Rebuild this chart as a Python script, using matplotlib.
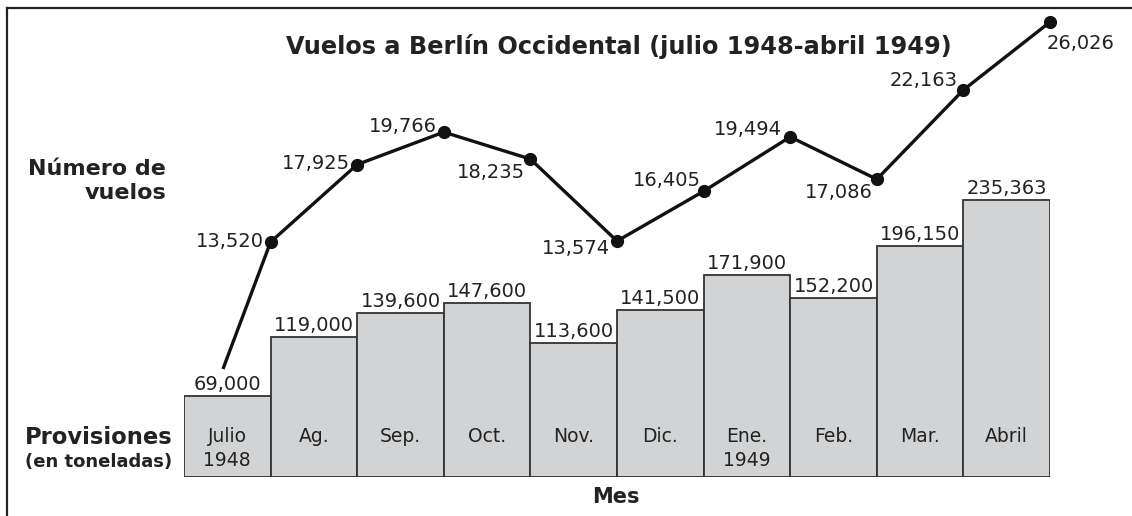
import matplotlib
matplotlib.use("Agg")
import matplotlib.pyplot as plt
from matplotlib.lines import Line2D

plt.rcParams['font.family'] = ['DejaVu Sans']

# data
months = ['Julio\n1948', 'Ag.', 'Sep.', 'Oct.', 'Nov.', 'Dic.', 'Ene.\n1949', 'Feb.', 'Mar.', 'Abril']
tons = [69000, 119000, 139600, 147600, 113600, 141500, 171900, 152200, 196150, 235363]
flights = [13520, 17925, 19766, 18235, 13574, 16405, 19494, 17086, 22163, 26026]
# the line starts inside the July bar, without a marker
line_start = 6300

# label offsets for the flight values (pixels, ha)
flight_offsets = [(-7, 0, 'right'), (-7, 1, 'right'), (-7, 6, 'right'), (-5, -13, 'right'),
                  (-7, -7, 'right'), (-3, 11, 'right'), (-8, 7, 'right'), (-4, -13, 'right'),
                  (-6, 9, 'right'), (-3, -21, 'left')]

W, H = 1132, 516
fig = plt.figure(figsize=(W / 100, H / 100), dpi=100)

# frame: left and top lines only
fig.add_artist(Line2D([7 / W, 7 / W], [0, 1 - 8 / H], color='#222222', lw=1.6, transform=fig.transFigure))
fig.add_artist(Line2D([7 / W, 1], [1 - 8 / H, 1 - 8 / H], color='#222222', lw=1.6, transform=fig.transFigure))

ax = fig.add_axes([184 / W, (H - 477) / H, 866 / W, (477 - 10) / H])
ax.set_xlim(0, 10)
ax.set_ylim(0, 235363 * 467 / 277)
ax.axis('off')

x = list(range(len(tons)))
ax.bar(x, tons, width=1, align='edge', color='#d2d3d5', edgecolor='#333333', linewidth=1.3)
for i, t in enumerate(tons):
    ax.annotate(f'{t:,}', (i + 0.5, t), xytext=(0, 2), textcoords='offset pixels',
                ha='center', va='bottom', fontsize=14, color='#222222')
    ax.annotate(months[i], (i + 0.5, 0), xytext=(0, 50), textcoords='offset pixels',
                ha='center', va='top', fontsize=13.5, color='#222222', linespacing=1.3)

ax2 = ax.twinx()
ax2.set_ylim(160, 26709)
ax2.axis('off')
lx = [0.45] + [i + 1 for i in x]
ax2.plot(lx, [line_start] + flights, color='#111111', lw=2.4, solid_capstyle='butt')
ax2.plot([i + 1 for i in x], flights, 'o', color='#111111', markersize=8.5, clip_on=False)
for i, f in enumerate(flights):
    dx, dy, ha = flight_offsets[i]
    ax2.annotate(f'{f:,}', (i + 1, f), xytext=(dx, dy), textcoords='offset pixels',
                 ha=ha, va='center', fontsize=14, color='#222222')

fig.text(619 / W, 1 - 47 / H, 'Vuelos a Berlín Occidental (julio 1948-abril 1949)',
         ha='center', va='center', fontsize=17.3, fontweight='bold', color='#222222')
fig.text(166 / W, 1 - 181 / H, 'Número de\nvuelos', ha='right', va='center',
         fontsize=16, fontweight='bold', color='#222222', linespacing=1.2)
fig.text(173 / W, 1 - 437 / H, 'Provisiones', ha='right', va='center',
         fontsize=16.3, fontweight='bold', color='#222222')
fig.text(172 / W, 1 - 462 / H, '(en toneladas)', ha='right', va='center',
         fontsize=13, fontweight='bold', color='#222222')
fig.text(616 / W, 1 - 497 / H, 'Mes', ha='center', va='center',
         fontsize=15, fontweight='bold', color='#222222')

fig.savefig('out.png', dpi=100)
